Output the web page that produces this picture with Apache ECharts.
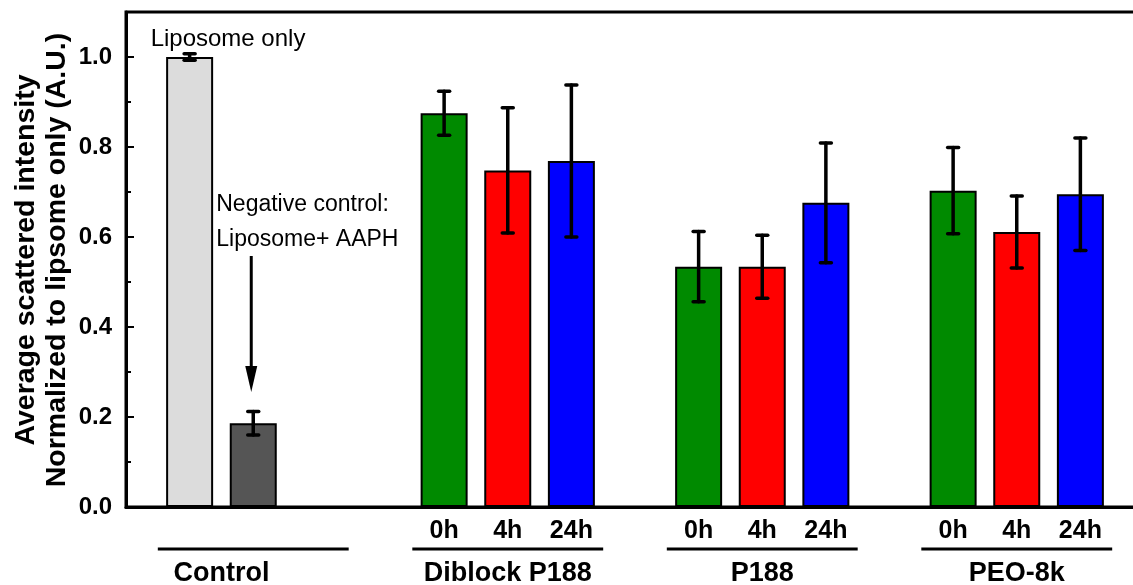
<!DOCTYPE html>
<html><head><meta charset="utf-8">
<script src="https://cdn.jsdelivr.net/npm/echarts@6/dist/echarts.min.js"></script>
<style>html,body{margin:0;padding:0;background:#fff}#c{width:1133px;height:585px}</style>
</head><body><div id="c"></div>
<script>
// ---- data ----
const groups = ['Control', 'Diblock P188', 'P188', 'PEO-8k'];
const times = ['0h', '4h', '24h'];
const controlNames = ['Liposome only', 'Liposome+ AAPH'];
const controlValues = [1.000, 0.186];
const controlErrors = [0.007, 0.026];
const diblockValues = [0.875, 0.748, 0.769];
const diblockErrors = [0.049, 0.139, 0.169];
const p188Values = [0.534, 0.534, 0.676];
const p188Errors = [0.078, 0.070, 0.133];
const peoValues = [0.703, 0.611, 0.695];
const peoErrors = [0.096, 0.080, 0.125];
const yTickLabels = ['0.0', '0.2', '0.4', '0.6', '0.8', '1.0'];

// ---- styles ----
const FONT = 'Arial, "Liberation Sans", Helvetica, sans-serif';
const controlColors = ['#dcdcdc', '#555555'];
const timeColors = ['#008a00', '#ff0000', '#0000ff'];

// ---- build category slots ----
const groupSeries = [
  { names: controlNames, values: controlValues, errors: controlErrors, colors: controlColors, labels: ['', ''] },
  { names: times, values: diblockValues, errors: diblockErrors, colors: timeColors, labels: times },
  { names: times, values: p188Values, errors: p188Errors, colors: timeColors, labels: times },
  { names: times, values: peoValues, errors: peoErrors, colors: timeColors, labels: times }
];
const cats = ['pad'];
const catLabels = [''];
const barData = ['-'];
const errData = [];
const groupData = [];
groupSeries.forEach((g, gi) => {
  const start = cats.length;
  for (let k = 0; k < 3; k++) {
    const idx = cats.length;
    if (k < g.values.length) {
      cats.push(groups[gi] + '|' + g.names[k]);
      catLabels.push(g.labels[k]);
      barData.push({ value: g.values[k], itemStyle: { color: g.colors[k] } });
      errData.push([idx, g.values[k], g.errors[k]]);
    } else {
      cats.push(groups[gi] + '|empty');
      catLabels.push('');
      barData.push('-');
    }
  }
  groupData.push([start, 0, g.values.length, gi]);
  cats.push('gap' + gi);
  catLabels.push('');
  barData.push('-');
});

const chart = echarts.init(document.getElementById('c'), null, { renderer: 'canvas' });
const option = {
  animation: false,
  backgroundColor: '#fff',
  grid: { left: 126, top: 12, width: 1018, height: 495, outerBoundsMode: 'none', containLabel: false,
    show: true, borderColor: '#000', borderWidth: 3, backgroundColor: 'transparent' },
  xAxis: {
    type: 'category', data: cats, boundaryGap: false,
    axisLine: { lineStyle: { color: '#000', width: 3 } },
    axisTick: { show: false },
    axisLabel: { interval: 0, margin: 12, color: '#000', fontFamily: FONT, fontWeight: 'bold', fontSize: 25,
      formatter: (v, i) => catLabels[i] },
    splitLine: { show: false }
  },
  yAxis: [{
    type: 'value', min: 0, max: 1.1, interval: 0.2,
    axisLine: { show: true, lineStyle: { color: '#000', width: 3 } },
    axisTick: { show: true, inside: true, length: 8, lineStyle: { color: '#000', width: 2 } },
    axisLabel: { showMaxLabel: false, margin: 14, color: '#000', fontFamily: FONT, fontWeight: 'bold', fontSize: 24,
      formatter: (v) => { const i = Math.round(v / 0.2); return yTickLabels[i] || ''; } },
    splitLine: { show: false }
  }, {
    type: 'value', min: 0, max: 1.1, interval: 0.1, position: 'left',
    axisLine: { show: false },
    axisTick: { show: true, inside: true, length: 5, lineStyle: { color: '#000', width: 2 } },
    axisLabel: { show: false },
    splitLine: { show: false }
  }],
  series: [{
    type: 'bar', data: barData, barWidth: 47, xAxisIndex: 0, yAxisIndex: 0,
    itemStyle: { borderColor: '#000', borderWidth: 2 }
  }, {
    type: 'custom', data: errData, xAxisIndex: 0, yAxisIndex: 0, z: 5,
    renderItem: (params, api) => {
      const x = api.value(0), v = api.value(1), e = api.value(2);
      const top = api.coord([x, v + e]);
      const bot = api.coord([x, v - e]);
      const hw = 5.5;
      const st = { stroke: '#000', lineWidth: 3.5, lineCap: 'round' };
      return { type: 'group', children: [
        { type: 'line', shape: { x1: top[0], y1: top[1], x2: bot[0], y2: bot[1] }, style: st },
        { type: 'line', shape: { x1: top[0] - hw, y1: top[1], x2: top[0] + hw, y2: top[1] }, style: st },
        { type: 'line', shape: { x1: bot[0] - hw, y1: bot[1], x2: bot[0] + hw, y2: bot[1] }, style: st }
      ] };
    }
  }, {
    type: 'custom', data: groupData, xAxisIndex: 0, yAxisIndex: 0, clip: false, silent: true,
    renderItem: (params, api) => {
      const s = api.value(0), n = api.value(2), gi = api.value(3);
      const p0 = api.coord([s, 0]);
      const p1 = api.coord([s + 1, 0]);
      const w = p1[0] - p0[0];
      const x1 = p0[0] - w / 2, x2 = p0[0] + 2.5 * w;
      const tx = p0[0] + (n - 1) / 2 * w;
      const yl = p0[1] + 42, yt = p0[1] + 67;
      return { type: 'group', children: [
        { type: 'line', shape: { x1: x1, y1: yl, x2: x2, y2: yl }, style: { stroke: '#000', lineWidth: 3 } },
        { type: 'text', x: tx, y: yt, style: { text: groups[gi], fill: '#000', font: 'bold 27px ' + FONT, textAlign: 'center', textVerticalAlign: 'middle', verticalAlign: 'middle' } }
      ] };
    }
  }]
};
chart.setOption(option);

// annotations
const negX = chart.convertToPixel({ xAxisIndex: 0 }, cats[2]);
const libX = chart.convertToPixel({ xAxisIndex: 0 }, cats[1]);
chart.setOption({
  graphic: [
    { type: 'text', x: 42, y: 260, rotation: Math.PI / 2,
      style: { text: 'Average scattered intensity\nNormalized to lipsome only (A.U.)', fill: '#000', font: 'bold 28.5px ' + FONT, lineHeight: 31, textAlign: 'center', textVerticalAlign: 'middle', verticalAlign: 'middle' } },
    { type: 'text', x: libX - 39, y: 39,
      style: { text: 'Liposome only', fill: '#000', font: '24px ' + FONT, textAlign: 'left', textVerticalAlign: 'middle', verticalAlign: 'middle' } },
    { type: 'text', x: negX - 37, y: 222,
      style: { text: 'Negative control:\nLiposome+ AAPH', fill: '#000', font: '23px ' + FONT, lineHeight: 35, textAlign: 'left', textVerticalAlign: 'middle', verticalAlign: 'middle' } },
    { type: 'line', shape: { x1: negX - 2, y1: 256, x2: negX - 2, y2: 372 }, style: { stroke: '#000', lineWidth: 3 } },
    { type: 'polygon', shape: { points: [[negX - 8, 366], [negX + 4, 366], [negX - 2, 392]] }, style: { fill: '#000' } }
  ]
});
</script>
</body></html>
